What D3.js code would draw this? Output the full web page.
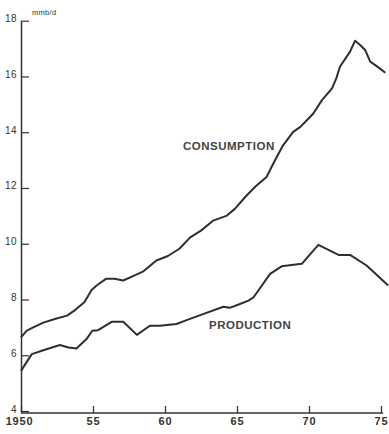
<!DOCTYPE html>
<html>
<head>
<meta charset="utf-8">
<script src="https://cdn.jsdelivr.net/npm/d3@7"></script>
<style>
  body { margin: 0; background: #fff; }
  svg { display: block; font-family: "Liberation Sans", Arial, sans-serif; }
</style>
</head>
<body>
<div id="chart"></div>
<script>
const width = 389;
const height = 434;

// the years and values (mmb/d)
const consumptionYears = [1950.0, 1950.4, 1950.85, 1951.55, 1952.35, 1953.2, 1953.75, 1954.4, 1954.9, 1955.25,
  1955.9, 1956.5, 1957.1, 1957.7, 1958.5, 1959.4, 1960.2, 1961.0, 1961.75, 1962.5,
  1963.35, 1964.3, 1964.85, 1965.65, 1966.3, 1967.05, 1967.4, 1967.75, 1968.2, 1968.9,
  1969.4, 1969.85, 1970.3, 1970.9, 1971.6, 1971.9, 1972.15, 1972.85, 1973.2, 1973.55,
  1973.9, 1974.25, 1974.7, 1975.3];
const consumption = [6.64, 6.88, 7.0, 7.17, 7.3, 7.42, 7.62, 7.9, 8.34, 8.5,
  8.74, 8.74, 8.68, 8.82, 9.01, 9.4, 9.56, 9.82, 10.23, 10.47,
  10.83, 11.01, 11.25, 11.72, 12.06, 12.39, 12.75, 13.1, 13.53, 14.01,
  14.19, 14.43, 14.67, 15.15, 15.57, 15.94, 16.35, 16.89, 17.28, 17.13,
  16.95, 16.53, 16.37, 16.13];

const productionYears = [1950.0, 1950.3, 1950.75, 1951.55, 1952.7, 1953.3, 1953.85, 1954.55, 1954.95, 1955.35,
  1956.3, 1957.1, 1958.05, 1958.95, 1959.65, 1960.8, 1961.5, 1962.45, 1964.05, 1964.5,
  1965.2, 1965.8, 1966.15, 1967.3, 1968.1, 1969.5, 1970.65, 1972.05, 1972.85, 1974.0,
  1975.5];
const production = [5.44, 5.68, 6.04, 6.18, 6.37, 6.28, 6.24, 6.58, 6.88, 6.9,
  7.2, 7.2, 6.73, 7.06, 7.06, 7.12, 7.26, 7.44, 7.74, 7.7,
  7.84, 7.96, 8.08, 8.92, 9.19, 9.28, 9.96, 9.6, 9.6, 9.22,
  8.5];

const yTicks = [4, 6, 8, 10, 12, 14, 16, 18];
const xTicks = [1950, 1955, 1960, 1965, 1970, 1975];
const xTickLabels = ["1950", "55", "60", "65", "70", "75"];

const ink = "#333";

const svg = d3.select("#chart")
  .append("svg")
  .attr("width", width)
  .attr("height", height);

let xScale = d3.scaleLinear()
  .domain([1950, 1975])
  .range([21, 381]);

let yScale = d3.scaleLinear()
  .domain([4, 18])
  .range([411, 20.7]);

// left axis, ticks point inwards and labels sit on the tick
const yAxis = svg.append("g")
  .attr("transform", "translate(21,0)")
  .call(d3.axisLeft(yScale)
    .tickValues(yTicks)
    .tickSizeInner(-8)
    .tickSizeOuter(0)
    .tickPadding(4));
yAxis.select(".domain").attr("stroke", ink).attr("stroke-width", 1.5);
yAxis.selectAll(".tick line").attr("stroke", ink).attr("stroke-width", 1.2);
yAxis.selectAll(".tick text")
  .attr("dy", "0.1em")
  .attr("fill", ink)
  .attr("font-size", "10px")
  .attr("letter-spacing", "0.4px");
yAxis.attr("font-family", null);

// bottom axis, ticks pointing up
const xAxis = svg.append("g")
  .attr("transform", "translate(0,413)")
  .call(d3.axisBottom(xScale)
    .tickValues(xTicks)
    .tickFormat((d, i) => xTickLabels[i])
    .tickSizeInner(-7)
    .tickSizeOuter(0)
    .tickPadding(4));
xAxis.select(".domain")
  .attr("d", `M${xScale(1950)},0H${xScale(1975) + 2}`)
  .attr("stroke", ink).attr("stroke-width", 1.5);
xAxis.selectAll(".tick line").attr("stroke", ink).attr("stroke-width", 1.3);
xAxis.selectAll(".tick text")
  .attr("fill", ink)
  .attr("font-size", "11px")
  .attr("font-weight", "bold")
  .attr("letter-spacing", "0.8px")
  .attr("dx", d => d === 1950 ? -2 : 0);
xAxis.attr("font-family", null);

// unit label
svg.append("text")
  .attr("x", 32)
  .attr("y", 15)
  .attr("font-size", "7.5px")
  .attr("letter-spacing", "0.3px")
  .attr("fill", ink)
  .text("mmb/d");

const line = d3.line()
  .x(d => xScale(d[0]))
  .y(d => yScale(d[1]));

svg.append("path")
  .datum(d3.zip(consumptionYears, consumption))
  .attr("fill", "none")
  .attr("stroke", "#2e2e2e")
  .attr("stroke-width", 2)
  .attr("stroke-linejoin", "round")
  .attr("d", line);

svg.append("path")
  .datum(d3.zip(productionYears, production))
  .attr("fill", "none")
  .attr("stroke", "#2e2e2e")
  .attr("stroke-width", 2)
  .attr("stroke-linejoin", "round")
  .attr("d", line);

// series labels
svg.append("text")
  .attr("x", 183)
  .attr("y", 150)
  .attr("font-size", "11.5px")
  .attr("font-weight", "bold")
  .attr("letter-spacing", "0.5px")
  .attr("fill", "#444")
  .text("CONSUMPTION");

svg.append("text")
  .attr("x", 209)
  .attr("y", 329)
  .attr("font-size", "11.5px")
  .attr("font-weight", "bold")
  .attr("letter-spacing", "0.5px")
  .attr("fill", "#444")
  .text("PRODUCTION");
</script>
</body>
</html>
